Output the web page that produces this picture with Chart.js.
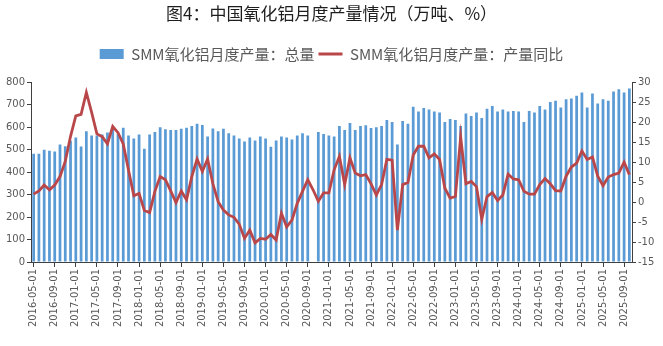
<!DOCTYPE html>
<html>
<head>
<meta charset="utf-8">
<script src="https://cdn.jsdelivr.net/npm/chart.js@4/dist/chart.umd.min.js"></script>
<style>
html,body{margin:0;padding:0;background:#fff;}
#wrap{width:663px;height:346px;position:relative;}
</style>
</head>
<body>
<div id="wrap"><canvas id="c" width="663" height="346"></canvas></div>
<script>
const categories = [
"2016-05-01","2016-06-01","2016-07-01","2016-08-01","2016-09-01","2016-10-01","2016-11-01","2016-12-01",
"2017-01-01","2017-02-01","2017-03-01","2017-04-01","2017-05-01","2017-06-01","2017-07-01","2017-08-01","2017-09-01","2017-10-01","2017-11-01","2017-12-01",
"2018-01-01","2018-02-01","2018-03-01","2018-04-01","2018-05-01","2018-06-01","2018-07-01","2018-08-01","2018-09-01","2018-10-01","2018-11-01","2018-12-01",
"2019-01-01","2019-02-01","2019-03-01","2019-04-01","2019-05-01","2019-06-01","2019-07-01","2019-08-01","2019-09-01","2019-10-01","2019-11-01","2019-12-01",
"2020-01-01","2020-02-01","2020-03-01","2020-04-01","2020-05-01","2020-06-01","2020-07-01","2020-08-01","2020-09-01","2020-10-01","2020-11-01","2020-12-01",
"2021-01-01","2021-02-01","2021-03-01","2021-04-01","2021-05-01","2021-06-01","2021-07-01","2021-08-01","2021-09-01","2021-10-01","2021-11-01","2021-12-01",
"2022-01-01","2022-02-01","2022-03-01","2022-04-01","2022-05-01","2022-06-01","2022-07-01","2022-08-01","2022-09-01","2022-10-01","2022-11-01","2022-12-01",
"2023-01-01","2023-02-01","2023-03-01","2023-04-01","2023-05-01","2023-06-01","2023-07-01","2023-08-01","2023-09-01","2023-10-01","2023-11-01","2023-12-01",
"2024-01-01","2024-02-01","2024-03-01","2024-04-01","2024-05-01","2024-06-01","2024-07-01","2024-08-01","2024-09-01","2024-10-01","2024-11-01","2024-12-01",
"2025-01-01","2025-02-01","2025-03-01","2025-04-01","2025-05-01","2025-06-01","2025-07-01","2025-08-01","2025-09-01","2025-10-01"
];

// SMM氧化铝月度产量：总量 (万吨)
const totalOutput = [
482,482,500,496,492,523,516,540,
555,514,582,564,564,568,577,595,570,598,564,550,
568,505,568,579,600,591,588,588,594,598,606,616,
610,559,595,582,593,573,564,550,537,555,541,559,
550,513,541,559,555,546,564,573,564,null,579,570,
564,559,606,588,619,588,606,609,597,600,606,633,
624,523,628,616,692,670,686,679,670,666,624,637,
633,606,661,650,666,641,683,695,670,679,670,673,
670,624,673,666,695,679,713,718,688,725,728,740,
755,688,751,706,725,718,760,770,755,773
];

// SMM氧化铝月度产量：产量同比 (%)
const yoyGrowth = [
2.0,2.8,4.3,3.1,4.3,6.4,10.2,16.5,
21.6,22.0,27.5,22.5,17.1,16.4,14.6,19.0,17.4,14.6,8.0,1.6,
2.2,-2.1,-2.6,2.7,6.4,5.6,2.8,-0.1,2.8,0.6,6.4,10.8,
7.7,10.8,4.6,0.1,-2.0,-3.2,-3.8,-5.5,-9.1,-7.0,-10.2,-9.1,
-9.3,-8.1,-9.5,-2.8,-6.2,-4.5,-0.3,2.7,5.6,3.1,0.2,2.3,
2.3,8.1,11.5,4.4,11.1,7.3,6.6,6.9,4.6,1.8,4.4,10.7,
10.5,-7.0,4.4,4.9,11.8,14.0,14.0,11.1,12.1,10.7,3.5,1.0,
1.4,16.3,4.6,5.2,3.9,-4.3,1.4,2.4,0.4,1.8,7.0,5.8,
5.6,2.7,2.0,2.0,4.4,5.9,4.6,2.9,2.8,6.5,8.8,9.8,
12.8,10.7,11.3,6.5,4.1,6.3,6.9,7.3,10.0,6.9
];

const leftTicks = {min: 0, max: 800, step: 100};
const rightTicks = {min: -15, max: 30, step: 5};
const titleText = "图4：中国氧化铝月度产量情况（万吨、%）";
const seriesNames = ["SMM氧化铝月度产量：总量", "SMM氧化铝月度产量：产量同比"];

const BAR = "#5b9bd5";
const LINE = "#b9474a";
const AXIS = "#404040";
const TXT = "#595959";
const tickFont = {family: "DejaVu Sans", size: 10};

const legendGap = {
  id: "legendGap",
  beforeInit(chart) {
    const orig = chart.legend.fit;
    chart.legend.fit = function () { orig.call(this); this.height += 11; };
  }
};

new Chart(document.getElementById("c"), {
  data: {
    labels: categories,
    datasets: [
      {
        type: "bar", label: seriesNames[0], data: totalOutput, yAxisID: "y",
        backgroundColor: BAR, categoryPercentage: 1, barPercentage: 0.52, order: 2
      },
      {
        type: "line", label: seriesNames[1], data: yoyGrowth, yAxisID: "y1",
        borderColor: LINE, borderWidth: 2.8, pointRadius: 0, tension: 0, order: 1,
        spanGaps: true
      }
    ]
  },
  options: {
    responsive: false,
    animation: false,
    devicePixelRatio: 1,
    layout: {padding: {top: 0, left: 0, right: 0, bottom: 0}},
    plugins: {
      tooltip: {enabled: false},
      title: {
        display: true, text: titleText, color: "#1e1e1e",
        font: {family: "Noto Sans CJK SC", size: 17, weight: "normal"},
        padding: {top: 3, bottom: 19}
      },
      legend: {
        display: true, position: "top",
        labels: {
          font: {family: "Noto Sans CJK SC", size: 15},
          color: TXT, padding: 4,
          usePointStyle: true, boxHeight: 10, pointStyleWidth: 24,
          generateLabels: () => [
            {text: seriesNames[0], fillStyle: BAR, strokeStyle: BAR, lineWidth: 0, pointStyle: "rect", hidden: false, datasetIndex: 0, fontColor: TXT},
            {text: seriesNames[1], fillStyle: LINE, strokeStyle: LINE, lineWidth: 3, pointStyle: "line", hidden: false, datasetIndex: 1, fontColor: TXT}
          ]
        }
      }
    },
    scales: {
      x: {
        type: "category", offset: true,
        grid: {
          display: true, drawOnChartArea: false, drawTicks: true, tickLength: 5, offset: false,
          tickColor: (ctx) => (ctx.index % 4 === 0 ? AXIS : "rgba(0,0,0,0)")
        },
        border: {display: true, color: AXIS, width: 1},
        ticks: {
          autoSkip: false, maxRotation: 90, minRotation: 90, padding: 2,
          color: TXT, font: tickFont,
          callback: (v, i) => (i % 4 === 0 ? categories[i] : "")
        },
        afterFit: (s) => { s.height = 84; }
      },
      y: {
        position: "left", min: leftTicks.min, max: leftTicks.max,
        grid: {display: true, drawOnChartArea: false, tickLength: 4, tickColor: AXIS},
        border: {display: true, color: AXIS, width: 1},
        ticks: {stepSize: leftTicks.step, color: TXT, font: tickFont, padding: 2},
        afterFit: (s) => { s.width = 31; }
      },
      y1: {
        position: "right", min: rightTicks.min, max: rightTicks.max,
        grid: {display: true, drawOnChartArea: false, tickLength: 4, tickColor: AXIS},
        border: {display: true, color: AXIS, width: 1},
        ticks: {stepSize: rightTicks.step, color: TXT, font: tickFont, padding: 2},
        afterFit: (s) => { s.width = 31; }
      }
    }
  },
  plugins: [legendGap]
});
</script>
</body>
</html>
